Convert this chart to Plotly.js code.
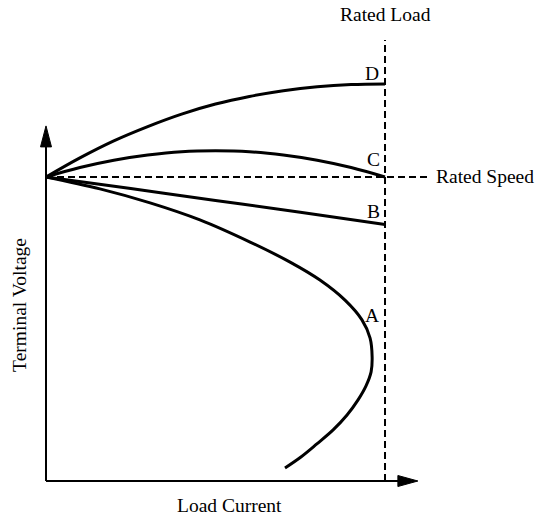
<!DOCTYPE html>
<html>
<head>
<meta charset="utf-8">
<script src="https://cdn.plot.ly/plotly-3.0.1.min.js"></script>
<style>html,body{margin:0;padding:0;background:#fff}#chart{width:538px;height:519px}</style>
</head>
<body>
<div id="chart"></div>
<script>
// Load current (rated load = 100) and terminal voltage (rated = 100)
const curveLabels = ["A", "B", "C", "D"];
const aCurrent = [0, 15.9, 30.7, 45.4, 60.2, 72.0, 80.8, 88.2, 93.2, 95.6, 96.2, 95.9, 94.4, 92.0, 88.8, 84.7, 79.9, 75.2, 70.5];
const aVoltage = [100, 96.1, 91.5, 85.9, 78.6, 72.0, 66.1, 59.5, 53.0, 47.0, 40.8, 35.9, 31.3, 26.6, 21.7, 16.8, 12.2, 7.9, 4.3];
const bCurrent = [0, 25, 50, 75, 100];
const bVoltage = [100, 96.2, 92.3, 88.4, 84.4];
const cCurrent = [0, 10, 20, 30, 40, 50, 60, 70, 80, 90, 100];
const cVoltage = [100, 103.1, 105.5, 107.2, 108.3, 108.6, 108.3, 107.2, 105.5, 103.1, 100];
const dCurrent = [0, 10, 20, 30, 40, 50, 60, 70, 80, 90, 100];
const dVoltage = [100, 106.3, 111.9, 116.6, 120.7, 124.0, 126.5, 128.4, 129.7, 130.4, 130.6];
const ratedLoad = 100;
const ratedSpeedVoltage = 100;

const series = [[aCurrent, aVoltage], [bCurrent, bVoltage], [cCurrent, cVoltage], [dCurrent, dVoltage]];
const traces = series.map((s, i) => ({
  x: s[0], y: s[1], type: "scatter", mode: "lines", name: curveLabels[i],
  line: {color: "#000", width: 3, shape: "spline", smoothing: 1},
  hoverinfo: "skip", showlegend: false
}));

const font = {family: "Liberation Serif, Times New Roman, serif", size: 19.5, color: "#000"};
const lblPos = {A: [96.2, 54.3], B: [96.6, 88.8], C: [96.5, 105.6], D: [96.2, 134.2]};
const annotations = curveLabels.map(l => ({
  x: lblPos[l][0], y: lblPos[l][1], xref: "x", yref: "y", text: l,
  showarrow: false, font: font, xanchor: "center", yanchor: "middle"
}));
annotations.push(
  {x: ratedLoad, y: 153.3, xref: "x", yref: "y", text: "Rated Load", showarrow: false, font: font, xanchor: "center", yanchor: "middle"},
  {x: 114.5, y: ratedSpeedVoltage, xref: "x", yref: "y", text: "Rated Speed", showarrow: false, font: font, xanchor: "left", yanchor: "middle"},
  {x: 54, y: -8.2, xref: "x", yref: "y", text: "Load Current", showarrow: false, font: font, xanchor: "center", yanchor: "middle"},
  {x: -7.7, y: 57.9, xref: "x", yref: "y", text: "Terminal Voltage", textangle: -90, showarrow: false, font: font, xanchor: "center", yanchor: "middle"}
);

const shapes = [
  // axes
  {type: "line", xref: "x", yref: "y", x0: 0, y0: 0, x1: 0, y1: 111, line: {color: "#000", width: 2}},
  {type: "line", xref: "x", yref: "y", x0: 0, y0: 0, x1: 104.5, y1: 0, line: {color: "#000", width: 2}},
  {type: "path", xref: "x", yref: "y", path: "M -1.62 109.9 L 0 116.8 L 1.62 109.9 Z", fillcolor: "#000", line: {color: "#000", width: 1}},
  {type: "path", xref: "x", yref: "y", path: "M 103.8 -1.81 L 109.7 0 L 103.8 1.81 Z", fillcolor: "#000", line: {color: "#000", width: 1}},
  // rated lines
  {type: "line", xref: "x", yref: "y", x0: ratedLoad, y0: 0, x1: ratedLoad, y1: 145.1, line: {color: "#000", width: 2, dash: "7px,4px"}},
  {type: "line", xref: "x", yref: "y", x0: 0, y0: ratedSpeedVoltage, x1: 113.3, y1: ratedSpeedVoltage, line: {color: "#000", width: 2, dash: "7px,4px"}}
];

const layout = {
  width: 538, height: 519,
  margin: {l: 0, r: 0, t: 0, b: 0},
  paper_bgcolor: "#fff", plot_bgcolor: "#fff",
  xaxis: {range: [-13.57, 145.13], visible: false, fixedrange: true},
  yaxis: {range: [-12.5, 158.22], visible: false, fixedrange: true},
  shapes: shapes, annotations: annotations, showlegend: false
};
Plotly.newPlot("chart", traces, layout, {staticPlot: true, displayModeBar: false});
</script>
</body>
</html>
